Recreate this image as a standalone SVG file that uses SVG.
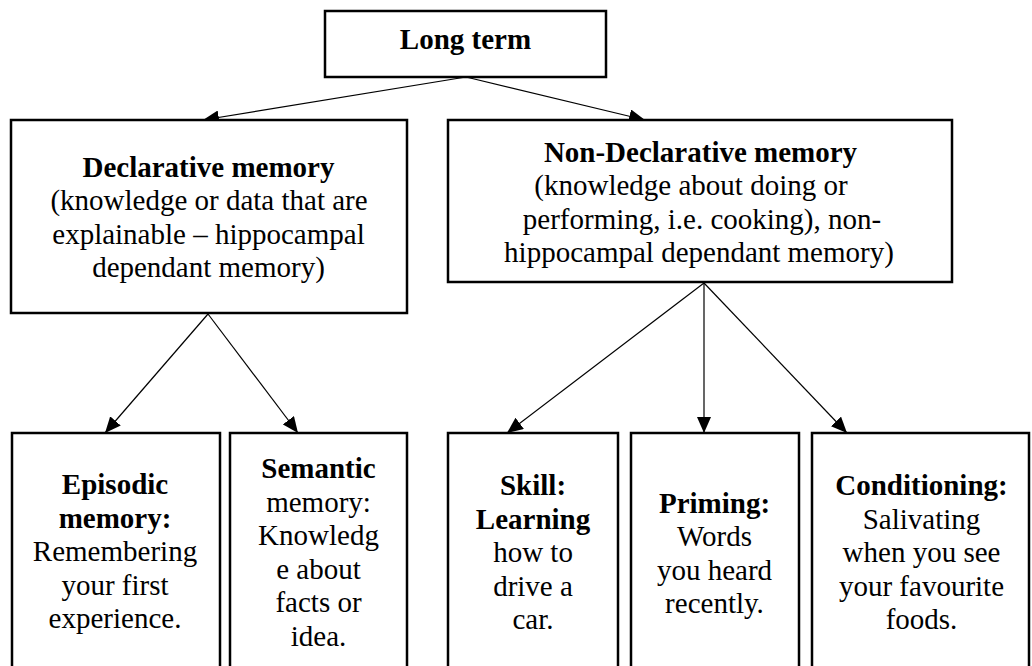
<svg xmlns="http://www.w3.org/2000/svg" width="1032" height="666" viewBox="0 0 1032 666">
<style>
.box{fill:#fff;stroke:#000;stroke-width:2.5}
.t{font-family:"Liberation Serif","Times New Roman",serif;font-size:29px;fill:#000;text-anchor:middle}
.b{font-weight:bold}
.c{stroke:#000;stroke-width:1.2;fill:none;marker-end:url(#ah)}
</style>
<defs>
<marker id="ah" markerUnits="userSpaceOnUse" markerWidth="16" markerHeight="14" refX="16" refY="7" orient="auto">
<path d="M0,0 L16,7 L0,14 z" fill="#000"/>
</marker>
</defs>
<rect width="1032" height="666" fill="#fff"/>
<g id="connectors">
<line class="c" x1="466" y1="77" x2="203" y2="120"/>
<line class="c" x1="466" y1="77" x2="645" y2="120"/>
<line class="c" x1="208" y1="314" x2="105" y2="433"/>
<line class="c" x1="208" y1="314" x2="298" y2="433"/>
<line class="c" x1="704" y1="283" x2="507" y2="433"/>
<line class="c" x1="704" y1="283" x2="704" y2="433"/>
<line class="c" x1="704" y1="283" x2="847" y2="433"/>
</g>
<g id="long-term">
<rect class="box" x="325" y="11" width="281" height="66"/>
<text class="t b" x="465.5" y="49">Long term</text>
</g>
<g id="declarative">
<rect class="box" x="11" y="120" width="396" height="193"/>
<text class="t b" x="208.5" y="176.5">Declarative memory</text>
<text class="t" x="209" y="210">(knowledge or data that are</text>
<text class="t" x="208.5" y="243.5">explainable – hippocampal</text>
<text class="t" x="208.5" y="277">dependant memory)</text>
</g>
<g id="non-declarative">
<rect class="box" x="448" y="120" width="504" height="162"/>
<text class="t b" x="700.5" y="161.5">Non-Declarative memory</text>
<text class="t" x="691" y="195">(knowledge about doing or</text>
<text class="t" x="702" y="228.5">performing, i.e. cooking), non-</text>
<text class="t" x="699" y="262">hippocampal dependant memory)</text>
</g>
<g id="episodic">
<rect class="box" x="12" y="433" width="208" height="250"/>
<text class="t b" x="115" y="494">Episodic</text>
<text class="t b" x="115" y="527.5">memory:</text>
<text class="t" x="115" y="561">Remembering</text>
<text class="t" x="115" y="594.5">your first</text>
<text class="t" x="115" y="628">experience.</text>
</g>
<g id="semantic">
<rect class="box" x="230" y="433" width="177" height="250"/>
<text class="t b" x="318.5" y="478">Semantic</text>
<text class="t" x="318.5" y="511.5">memory:</text>
<text class="t" x="318.5" y="545">Knowledg</text>
<text class="t" x="318.5" y="578.5">e about</text>
<text class="t" x="318.5" y="612">facts or</text>
<text class="t" x="318.5" y="645.5">idea.</text>
</g>
<g id="skill">
<rect class="box" x="448" y="433" width="170" height="250"/>
<text class="t b" x="533" y="495">Skill:</text>
<text class="t b" x="533" y="528.5">Learning</text>
<text class="t" x="533" y="562">how to</text>
<text class="t" x="533" y="595.5">drive a</text>
<text class="t" x="533" y="629">car.</text>
</g>
<g id="priming">
<rect class="box" x="631" y="433" width="168" height="250"/>
<text class="t b" x="714.5" y="512.5">Priming:</text>
<text class="t" x="714.5" y="546">Words</text>
<text class="t" x="714.5" y="579.5">you heard</text>
<text class="t" x="714.5" y="613">recently.</text>
</g>
<g id="conditioning">
<rect class="box" x="812" y="433" width="217" height="250"/>
<text class="t b" x="921.5" y="495">Conditioning:</text>
<text class="t" x="921.5" y="528.5">Salivating</text>
<text class="t" x="921.5" y="562">when you see</text>
<text class="t" x="921.5" y="595.5">your favourite</text>
<text class="t" x="921.5" y="629">foods.</text>
</g>
</svg>
